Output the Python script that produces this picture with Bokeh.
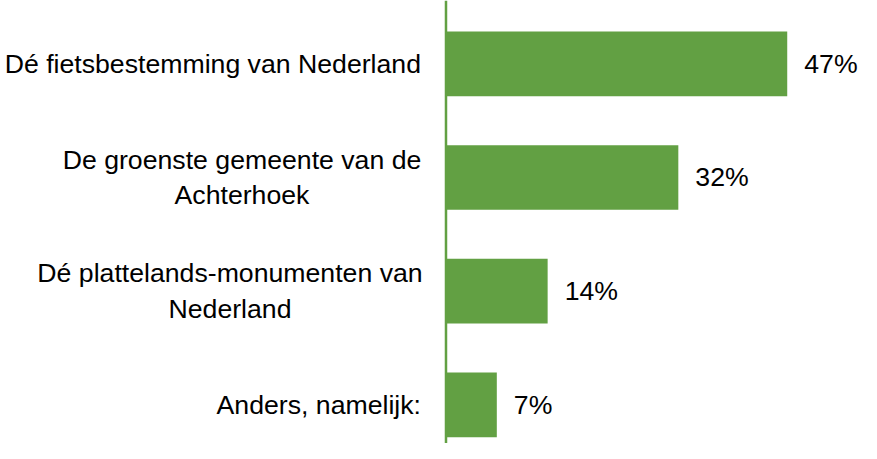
from bokeh.plotting import figure
from bokeh.models import ColumnDataSource, Range1d, Span
from bokeh.embed import file_html
from bokeh.resources import INLINE
from bokeh.core.properties import value

# --- data ---
categories = [
    "Dé fietsbestemming van Nederland",
    "De groenste gemeente van de\nAchterhoek",
    "Dé plattelands-monumenten van\nNederland",
    "Anders, namelijk:",
]
values = [47, 32, 14, 7]
value_labels = ["47%", "32%", "14%", "7%"]

# --- style ---
GREEN = "#62A043"
FONT = "Liberation Sans"
FSIZE = "26.67px"
# label anchors (screen px from the zero line) and alignment
label_offsets = [-25, -204, -216, -25]
label_aligns = ["right", "center", "center", "right"]

ypos = list(range(len(categories)))

W, H = 861, 443
p = figure(width=W, height=H, output_backend="svg", toolbar_location=None,
           x_range=Range1d(-61.36, 57.23), y_range=Range1d(3.3404, -0.5569),
           min_border=0)
p.xaxis.visible = False
p.yaxis.visible = False
p.xgrid.visible = False
p.ygrid.visible = False
p.outline_line_color = None
p.background_fill_color = "white"
p.border_fill_color = "white"

src = ColumnDataSource(dict(y=ypos, v=values, lab=value_labels, cat=categories,
                            xo=label_offsets, al=label_aligns, zero=[0]*len(values)))

p.hbar(y="y", left=0, right="v", height=0.569, source=src,
       fill_color=GREEN, line_color=None)

p.add_layout(Span(location=0, dimension="height", line_color=GREEN, line_width=2.5))

p.text(x="v", y="y", text="lab", source=src, x_offset=17,
       text_align="left", text_baseline="middle",
       text_font=value(FONT), text_font_size=FSIZE, text_color="#000000")

p.text(x="zero", y="y", text="cat", source=src, x_offset="xo",
       text_align="al", text_baseline="middle", text_line_height=1.19,
       text_font=value(FONT), text_font_size=FSIZE, text_color="#000000")

open("out.html", "w").write(file_html(p, INLINE))
